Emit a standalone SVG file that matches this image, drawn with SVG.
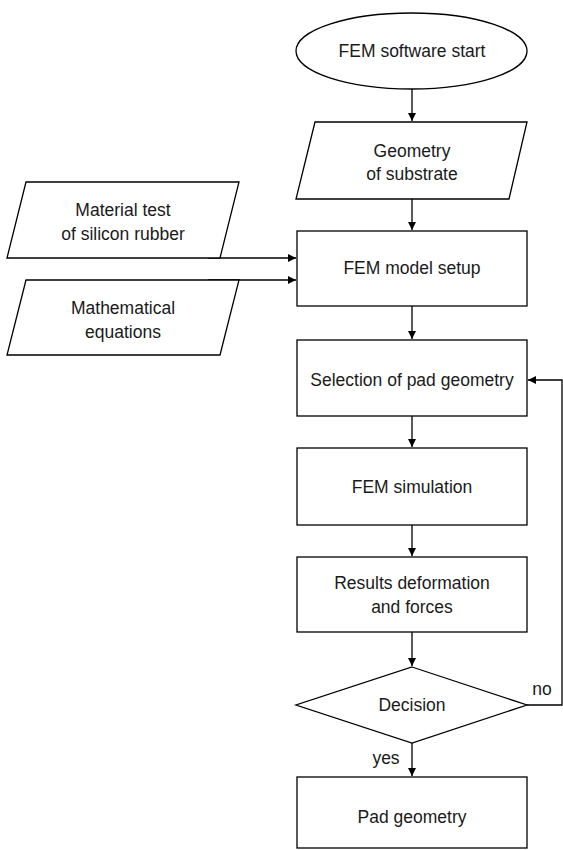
<svg xmlns="http://www.w3.org/2000/svg" width="563" height="850" viewBox="0 0 563 850">
<style>
.s{fill:#fff;stroke:#000;stroke-width:1.3}
.c{fill:none;stroke:#000;stroke-width:1.3}
text{font-family:"Liberation Sans",Arial,sans-serif;font-size:17.5px;fill:#1a1a1a;text-anchor:middle;dominant-baseline:central}
</style>
<defs>
<marker id="ah" markerWidth="8" markerHeight="8" refX="8" refY="4" orient="auto" markerUnits="userSpaceOnUse">
<path d="M0,0 L8,4 L0,8 z" fill="#000"/>
</marker>
</defs>
<rect width="563" height="850" fill="#fff"/>
<g id="connectors">
<line class="c" x1="412" y1="89" x2="412" y2="121" marker-end="url(#ah)"/>
<line class="c" x1="412" y1="199" x2="412" y2="230" marker-end="url(#ah)"/>
<line class="c" x1="208" y1="258" x2="296" y2="258" marker-end="url(#ah)"/>
<line class="c" x1="208" y1="280" x2="296" y2="280" marker-end="url(#ah)"/>
<line class="c" x1="412" y1="306" x2="412" y2="339" marker-end="url(#ah)"/>
<line class="c" x1="412" y1="416" x2="412" y2="447" marker-end="url(#ah)"/>
<line class="c" x1="412" y1="525" x2="412" y2="556" marker-end="url(#ah)"/>
<line class="c" x1="412" y1="632" x2="412" y2="666" marker-end="url(#ah)"/>
<line class="c" x1="412" y1="743" x2="412" y2="776" marker-end="url(#ah)"/>
<polyline class="c" points="527,705 562,705 562,380 528,380" marker-end="url(#ah)"/>
<text x="542" y="689">no</text>
<text x="386" y="758">yes</text>
</g>
<g id="start">
<ellipse class="s" cx="411.5" cy="51" rx="115.5" ry="38"/>
<text x="412" y="51">FEM software start</text>
</g>
<g id="geometry">
<polygon class="s" points="315,122 527,122 509,199 296,199"/>
<text x="412" y="151">Geometry</text>
<text x="412" y="174">of substrate</text>
</g>
<g id="material">
<polygon class="s" points="26,182 239,182 220,258 7,258"/>
<text x="123" y="210">Material test</text>
<text x="123" y="234">of silicon rubber</text>
</g>
<g id="math">
<polygon class="s" points="26,280 239,280 220,355 7,355"/>
<text x="123" y="308">Mathematical</text>
<text x="123" y="332">equations</text>
</g>
<g id="setup">
<rect class="s" x="297" y="231" width="230" height="75"/>
<text x="412" y="268">FEM model setup</text>
</g>
<g id="selection">
<rect class="s" x="297" y="340" width="230" height="76"/>
<text x="412" y="380">Selection of pad geometry</text>
</g>
<g id="simulation">
<rect class="s" x="297" y="448" width="230" height="77"/>
<text x="412" y="487">FEM simulation</text>
</g>
<g id="results">
<rect class="s" x="297" y="557" width="230" height="75"/>
<text x="412" y="583">Results deformation</text>
<text x="412" y="607">and forces</text>
</g>
<g id="decision">
<polygon class="s" points="412,667 527,705 412,743 296,705"/>
<text x="412" y="705">Decision</text>
</g>
<g id="pad">
<rect class="s" x="297" y="777" width="230" height="71"/>
<text x="412" y="817">Pad geometry</text>
</g>
</svg>
